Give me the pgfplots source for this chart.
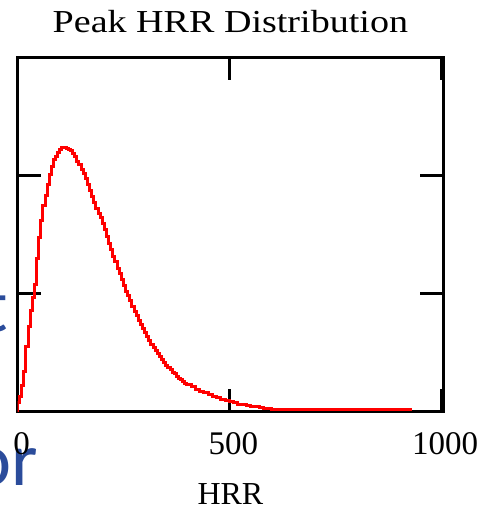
\documentclass[border=0pt]{standalone}
\usepackage{pgfplots}
\pgfplotsset{compat=1.18}
\usepackage{fontspec}
\setmainfont{Liberation Serif}
\newfontfamily\widefont[FakeStretch=1.19]{Liberation Serif}
\newfontfamily\slidefont{Carlito}
\definecolor{slideblue}{RGB}{43,76,155}

\begin{document}
\begin{tikzpicture}
% bits of the slide text behind the chart
\node[anchor=base east, inner sep=0, text=slideblue,
      font=\slidefont\fontsize{38}{40}\selectfont] at (-4.75pt,39.85pt) {t};
\node[anchor=base east, inner sep=0, text=slideblue,
      font=\slidefont\fontsize{38}{40}\selectfont] at (10.25pt,-36.65pt) {or};
\begin{axis}[
    scale only axis,
    width=212.9pt, height=177.35pt,
    xmin=0, xmax=1005, ymin=0, ymax=3,
    xtick={0,500,1000}, xticklabels={0,500,1000},
    ytick={1,2}, yticklabels={},
    tick align=inside,
    major tick length=11.5pt,
    axis line style={line width=1.5pt},
    tick style={line width=1.4pt, black},
    x tick label style={font=\fontsize{16.5}{18}\selectfont, xshift=2pt, yshift=-7pt},
    title={Peak HRR Distribution},
    title style={font=\widefont\fontsize{16}{18}\selectfont, at={(0.5,1)}, anchor=center, yshift=11.5pt},
    xlabel={HRR},
    xlabel style={font=\fontsize{16}{18}\selectfont, at={(0.5,0)}, anchor=center, yshift=-41pt},
]
\addplot[const plot, red, line width=1.5pt] coordinates {
    (0,0) (0,0.08) (5,0.13) (10,0.22) (15,0.34) (20,0.55) (25,0.72)
    (30,0.86) (35,0.97) (40,1.08) (45,1.30) (50,1.47) (55,1.62)
    (60,1.74) (65,1.83) (70,1.92) (75,2.01) (80,2.07) (85,2.13)
    (90,2.16) (95,2.19) (100,2.22) (105,2.235) (110,2.235) (115,2.23)
    (120,2.22) (125,2.21) (130,2.18) (135,2.155) (140,2.12) (145,2.09)
    (150,2.05) (155,2.015) (160,1.97) (165,1.92) (170,1.87) (175,1.82)
    (180,1.77) (185,1.72) (190,1.68) (195,1.64) (200,1.59) (205,1.54)
    (210,1.48) (215,1.42) (220,1.37) (225,1.31) (230,1.27) (235,1.21)
    (240,1.17) (245,1.12) (250,1.07) (255,1.02) (260,0.98) (265,0.94)
    (270,0.89) (275,0.85) (280,0.81) (285,0.775) (290,0.74) (295,0.70)
    (300,0.67) (305,0.635) (310,0.60) (315,0.57) (320,0.545) (325,0.515)
    (330,0.49) (335,0.465) (340,0.44) (345,0.42) (350,0.395) (355,0.375)
    (360,0.355) (365,0.335) (370,0.32) (375,0.30) (380,0.285) (385,0.27)
    (390,0.255) (395,0.24) (400,0.23) (410,0.21) (420,0.19) (430,0.175)
    (440,0.16) (450,0.145) (460,0.13) (470,0.12) (480,0.105) (490,0.095)
    (500,0.085) (510,0.075) (520,0.065) (530,0.06) (540,0.05) (550,0.045)
    (560,0.04) (570,0.035) (580,0.03) (590,0.025) (600,0.02) (930,0.02)
};
\end{axis}
\pgfresetboundingbox
\path[use as bounding box] (-8.75pt,-48.65pt) rectangle (235.75pt,205.85pt);
\end{tikzpicture}
\end{document}
